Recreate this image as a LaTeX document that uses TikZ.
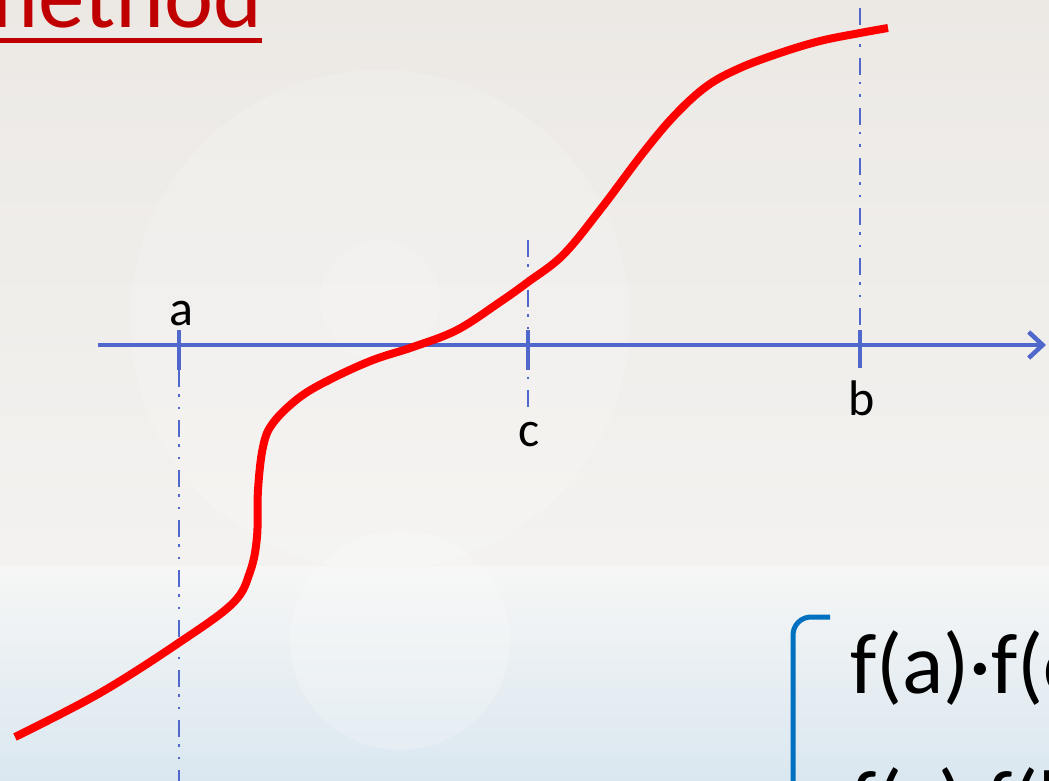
\documentclass[tikz,border=0pt]{standalone}
\usepackage{fontspec}
\setmainfont{Carlito}
\usetikzlibrary{arrows.meta}
\definecolor{axisblue}{RGB}{80,104,204}
\definecolor{curvered}{RGB}{255,0,0}
\definecolor{titlered}{RGB}{192,0,0}
\definecolor{brackblue}{RGB}{0,112,192}
\definecolor{bgtop}{RGB}{236,233,229}
\definecolor{bgmid}{RGB}{243,242,240}
\definecolor{bglow}{RGB}{246,246,245}
\definecolor{bgblue}{RGB}{218,231,240}
\begin{document}
\begin{tikzpicture}[x=1pt,y=-1pt,
  axisline/.style={draw=axisblue,line width=4.5pt,line join=round},
  tickmark/.style={draw=axisblue,line width=4pt},
  guide/.style={draw=axisblue,line width=2.3pt,dash pattern=on 17pt off 7pt on 2.5pt off 10pt on 2.5pt off 11pt},
  lab/.style={font=\fontsize{50}{60}\selectfont,inner sep=0pt,anchor=base,text=black},
  formula/.style={font=\fontsize{86}{100}\selectfont,inner sep=0pt,anchor=base west,text=black},
  curve/.style={draw=curvered,line width=8pt}]
\useasboundingbox (0,0) rectangle (1049,781);
\clip (0,0) rectangle (1049,781);
% background
\shade[top color=bgtop,bottom color=bgmid] (0,0) rectangle (1049,566);
\fill[white,opacity=0.16] (380,320) circle (250);
\fill[white,opacity=0.15] (380,300) circle (60);
\shade[top color=bglow,bottom color=bgblue] (0,566) rectangle (1049,781);
\fill[white,opacity=0.22] (400,640) circle (110);
% title
\node[font=\fontsize{93}{110}\selectfont,text=titlered,anchor=base west,inner sep=0pt] (title) at (-36,28) {method};
\coordinate (ul0) at (0,40.5);
\coordinate (ul1) at (262,40.5);
\draw[titlered,line width=4.5pt] (ul0) -- (ul1);
% guides
\coordinate (ga0) at (179,370);
\coordinate (ga1) at (179,781);
\coordinate (gc0) at (528,240);
\coordinate (gc1) at (528,410);
\coordinate (gb0) at (860,8);
\coordinate (gb1) at (860,330);
\draw[guide] (ga0) -- (ga1);
\draw[guide] (gc0) -- (gc1);
\draw[guide] (gb0) -- (gb1);
% axis
\coordinate (ax0) at (98,345);
\coordinate (ax1) at (1046,345);
\draw[axisline,-{Straight Barb[length=14pt,width=26pt]}] (ax0) -- (ax1);
% ticks
\coordinate (ta0) at (179,330); \coordinate (ta1) at (179,370);
\coordinate (tc0) at (528,330); \coordinate (tc1) at (528,370);
\coordinate (tb0) at (860,330); \coordinate (tb1) at (860,368);
\draw[tickmark] (ta0) -- (ta1);
\draw[tickmark] (tc0) -- (tc1);
\draw[tickmark] (tb0) -- (tb1);
% labels
\node[lab] (la) at (181,325) {a};
\node[lab] (lc) at (529,446) {c};
\node[lab] (lb) at (862,415) {b};
% curve
\draw[curve] plot[smooth,tension=0.6] coordinates {(15,737) (100,693) (180,642) (233,603) (250,572) (257,537) (258,490) (263,447) (273,423) (300,397) (333,378) (373,360) (413,347) (457,330) (500,302) (528,282) (563,255) (600,210) (643,153) (675,115) (707,86) (740,68) (780,53) (820,41) (860,33) (888,28)};
% bracket and formulas
\coordinate (br0) at (830,617);
\coordinate (br1) at (793,617);
\coordinate (br2) at (793,800);
\draw[brackblue,line width=5pt,rounded corners=18pt] (br0) -- (br1) -- (br2);
\node[formula] (f1) at (850,693) {f(a)·f(c)};
\node[formula] (f2) at (850,830) {f(c)·f(b)};
\end{tikzpicture}
\end{document}
